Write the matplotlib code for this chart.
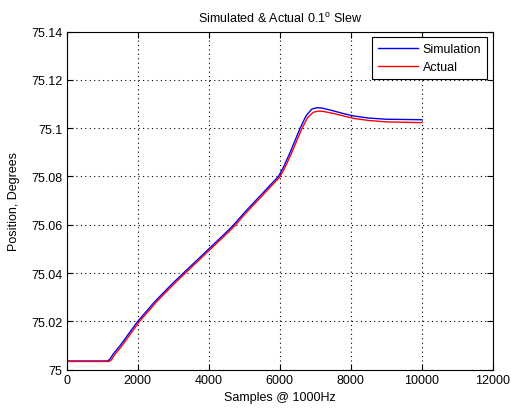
import matplotlib
matplotlib.use('Agg')
import matplotlib.pyplot as plt

# simulated response
sim_x = [0, 1150, 1220, 1310, 1500, 2000, 2500, 3000, 3500, 4000, 4500, 4690, 5000,
         5350, 5500, 5700, 5960, 6100, 6290, 6570, 6740, 6900, 7050, 7200,
         7500, 7800, 8100, 8500, 9000, 10000]
sim_y = [75.0036, 75.0036, 75.0044, 75.0065, 75.0099, 75.0200, 75.0285, 75.0360,
         75.0430, 75.0500, 75.0570, 75.0598, 75.0650, 75.0705, 75.0728, 75.0760,
         75.0800, 75.0838, 75.0900, 75.1000, 75.1052, 75.1079, 75.1085, 75.1083,
         75.1072, 75.1060, 75.1050, 75.1042, 75.1037, 75.1035]

# measured response
act_x = [0, 1190, 1260, 1350, 1540, 2040, 2540, 3040, 3540, 4040, 4540, 4730, 5040,
         5390, 5540, 5740, 6000, 6140, 6330, 6610, 6780, 6940, 7090, 7240,
         7540, 7840, 8100, 8500, 9000, 10000]
act_y = [75.0034, 75.0034, 75.0041, 75.0062, 75.0096, 75.0198, 75.0283, 75.0358,
         75.0428, 75.0498, 75.0568, 75.0596, 75.0648, 75.0703, 75.0726, 75.0758,
         75.0798, 75.0836, 75.0897, 75.0995, 75.1044, 75.1066, 75.1071, 75.1069,
         75.1060, 75.1049, 75.1040, 75.1032, 75.1026, 75.1023]

xticks = [0, 2000, 4000, 6000, 8000, 10000, 12000]
yticks = [75, 75.02, 75.04, 75.06, 75.08, 75.1, 75.12, 75.14]
ylabels = ['75', '75.02', '75.04', '75.06', '75.08', '75.1', '75.12', '75.14']

plt.rcParams['font.family'] = ['Liberation Sans', 'DejaVu Sans']
plt.rcParams['mathtext.default'] = 'regular'

fig = plt.figure(figsize=(5.11, 4.10), dpi=100)
ax = fig.add_axes([0.1305, 0.0959, 0.8343, 0.8246])

ax.plot(sim_x, sim_y, color='#0000ff', linewidth=1, label='Simulation')
ax.plot(act_x, act_y, color='#ff0000', linewidth=1, label='Actual')

ax.set_xlim(0, 12000)
ax.set_ylim(75, 75.14)
ax.set_xticks(xticks)
ax.set_xticklabels([str(t) for t in xticks])
ax.set_yticks(yticks)
ax.set_yticklabels(ylabels)
ax.tick_params(direction='in', length=4, labelsize=9, top=True, right=True,
               width=0.8, pad=3)
ax.grid(True, linestyle=(0, (1, 3)), color='black', linewidth=0.8)
for s in ax.spines.values():
    s.set_linewidth(0.8)

ax.set_title('Simulated & Actual 0.1$^{o}$ Slew', fontsize=9, pad=7)
ax.set_xlabel('Samples @ 1000Hz', fontsize=9, labelpad=4)
ax.set_ylabel('Position, Degrees', fontsize=9, labelpad=8)

leg = ax.legend(loc='upper right', fontsize=9, fancybox=False, framealpha=1,
                edgecolor='black', handlelength=3.2, borderaxespad=0.45,
                handletextpad=0.35, labelspacing=0.45, borderpad=0.5)
leg.get_frame().set_linewidth(0.8)

fig.savefig('out.png', dpi=100)
